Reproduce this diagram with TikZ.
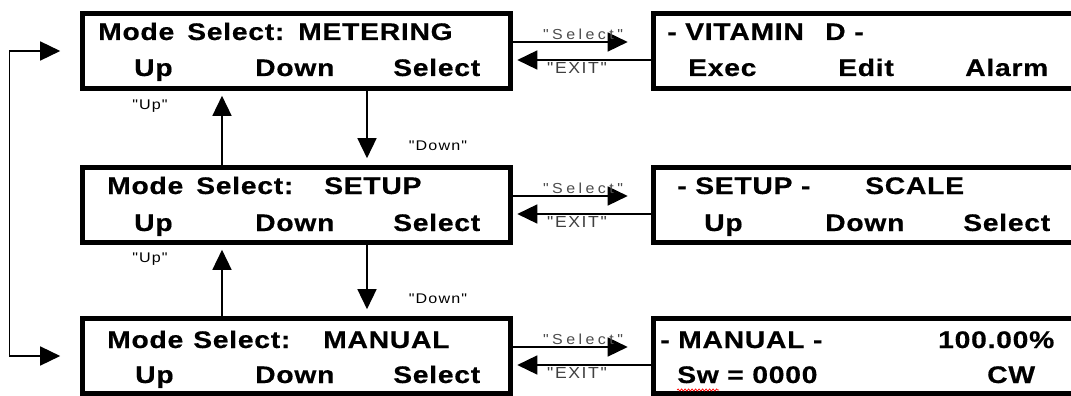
\documentclass[tikz,border=0pt]{standalone}
\usepackage{fontspec}
\setmainfont{Liberation Sans}
% display lettering: wide, slightly tracked, heavy bold sans
\newfontfamily\lcdfont[FakeStretch=1.18,LetterSpace=3,BoldFeatures={FakeBold=0.5}]{Liberation Sans}
% key-press captions
\newfontfamily\tagfont[FakeStretch=1.15,LetterSpace=8]{Liberation Sans}
\newfontfamily\selfont[FakeStretch=1.1,LetterSpace=24]{Liberation Sans}
\newfontfamily\exitfont[FakeStretch=1.1,LetterSpace=10]{Liberation Sans}
\usetikzlibrary{arrows.meta,decorations.pathmorphing}

\begin{document}
\begin{tikzpicture}[x=1pt,y=-1pt,
  panel/.style={draw, line width=4.6pt, inner sep=0pt, minimum height=75pt},
  lpanel/.style={panel, minimum width=428pt},
  rpanel/.style={panel, minimum width=470pt},
  lcd/.style={anchor=base west, inner sep=0pt,
    font=\lcdfont\bfseries\fontsize{24}{26}\selectfont},
  tag/.style={inner sep=0pt, font=\tagfont\fontsize{14}{16}\selectfont},
  selw/.style={inner sep=0pt, text=black!70,
    font=\selfont\fontsize{14.5}{16}\selectfont},
  exitw/.style={inner sep=0pt, text=black!75,
    font=\exitfont\fontsize{16}{18}\selectfont},
  tip/.tip={Triangle[length=20pt,width=19pt]},
  conn/.style={line width=1.5pt, -tip},
]
\useasboundingbox (0,0) rectangle (1071,396);
\clip (0,0) rectangle (1071,396);

% ---- mode panels (left column)
\node[lpanel] (meter)  at (296.5,51)  {};
\node[lpanel] (setup)  at (296.5,205) {};
\node[lpanel] (manual) at (296.5,356) {};

% ---- sub-menu panels (right column, running off the edge)
\node[rpanel] (vitd)   at (888.5,51)  {};
\node[rpanel] (scale)  at (888.5,205) {};
\node[rpanel] (mandsp) at (888.5,356) {};

% ---- METERING panel text
\node[lcd] (m1a) at (98,40)  {Mode};
\node[lcd] (m1b) at (187,40) {Select:};
\node[lcd] (m1c) at (298,40) {METERING};
\node[lcd] (m1d) at (134,76) {Up};
\node[lcd] (m1e) at (255,76) {Down};
\node[lcd] (m1f) at (393,76) {Select};

% ---- SETUP panel text
\node[lcd] (m2a) at (107,194) {Mode};
\node[lcd] (m2b) at (196,194) {Select:};
\node[lcd] (m2c) at (324,194) {SETUP};
\node[lcd] (m2d) at (134,231) {Up};
\node[lcd] (m2e) at (255,231) {Down};
\node[lcd] (m2f) at (393,231) {Select};

% ---- MANUAL panel text
\node[lcd] (m3a) at (107,348) {Mode};
\node[lcd] (m3b) at (193,348) {Select:};
\node[lcd] (m3c) at (323,348) {MANUAL};
\node[lcd] (m3d) at (135,383) {Up};
\node[lcd] (m3e) at (255,383) {Down};
\node[lcd] (m3f) at (393,383) {Select};

% ---- VITAMIN D panel text
\node[lcd] (v1) at (667,40) {- VITAMIN};
\node[lcd] (v2) at (825,40) {D -};
\node[lcd] (v5) at (688,76) {Exec};
\node[lcd] (v6) at (838,76) {Edit};
\node[lcd] (v7) at (965,76) {Alarm};

% ---- SETUP / SCALE panel text
\node[lcd] (s1) at (677,194) {- SETUP -};
\node[lcd] (s4) at (865,194) {SCALE};
\node[lcd] (s5) at (704,231) {Up};
\node[lcd] (s6) at (825,231) {Down};
\node[lcd] (s7) at (963,231) {Select};

% ---- MANUAL display text
\node[lcd] (d1) at (660,348) {- MANUAL -};
\node[lcd] (d4) at (938,348) {100.00\%};
\node[lcd] (sw) at (677,383) {Sw};
\node[lcd] (d6) at (727,383) {= 0000};
\node[lcd] (d7) at (987,383) {CW};
\draw[red, line width=0.7pt, decorate,
  decoration={snake, amplitude=1.1pt, segment length=3.5pt}]
  ([yshift=-7pt]sw.base west) -- ([yshift=-7pt]sw.base east);

% ---- Select / EXIT links
\foreach \l/\r in {meter/vitd, setup/scale, manual/mandsp} {
  \draw[conn, shorten >=23.5pt] ([yshift=9pt]\l.east) -- ([yshift=9pt]\r.west);
  \draw[conn, shorten >=4.5pt] ([yshift=-9pt]\r.west) -- ([yshift=-9pt]\l.east);
}
\node[selw]  (sel1) at (583,34)  {"Select"};
\node[exitw] (ex1)  at (577,68)  {"EXIT"};
\node[selw]  (sel2) at (583,188) {"Select"};
\node[exitw] (ex2)  at (577,222) {"EXIT"};
\node[selw]  (sel3) at (583,339) {"Select"};
\node[exitw] (ex3)  at (577,373) {"EXIT"};

% ---- Up / Down links between modes
\draw[conn, shorten >=5pt] ([xshift=-74.5pt]setup.north) -- ([xshift=-74.5pt]meter.south);
\draw[conn, shorten >=7pt] ([xshift=70.5pt]meter.south) -- ([xshift=70.5pt]setup.north);
\draw[conn, shorten >=5pt] ([xshift=-74.5pt]manual.north) -- ([xshift=-74.5pt]setup.south);
\draw[conn, shorten >=7pt] ([xshift=70.5pt]setup.south) -- ([xshift=70.5pt]manual.north);
\node[tag] (up1)   at (150,106) {"Up"};
\node[tag] (down1) at (438,146) {"Down"};
\node[tag] (up2)   at (150,259) {"Up"};
\node[tag] (down2) at (438,299) {"Down"};

% ---- wrap-around between MANUAL and METERING
\coordinate (loopTop) at ([xshift=-20pt]meter.west);
\coordinate (loopBot) at ([xshift=-20pt]manual.west);
\coordinate (loopX)   at ([xshift=-70.5pt]meter.west);
\draw[line width=1.5pt, tip-tip] (loopTop) -- (loopX) |- (loopBot);
\end{tikzpicture}
\end{document}
